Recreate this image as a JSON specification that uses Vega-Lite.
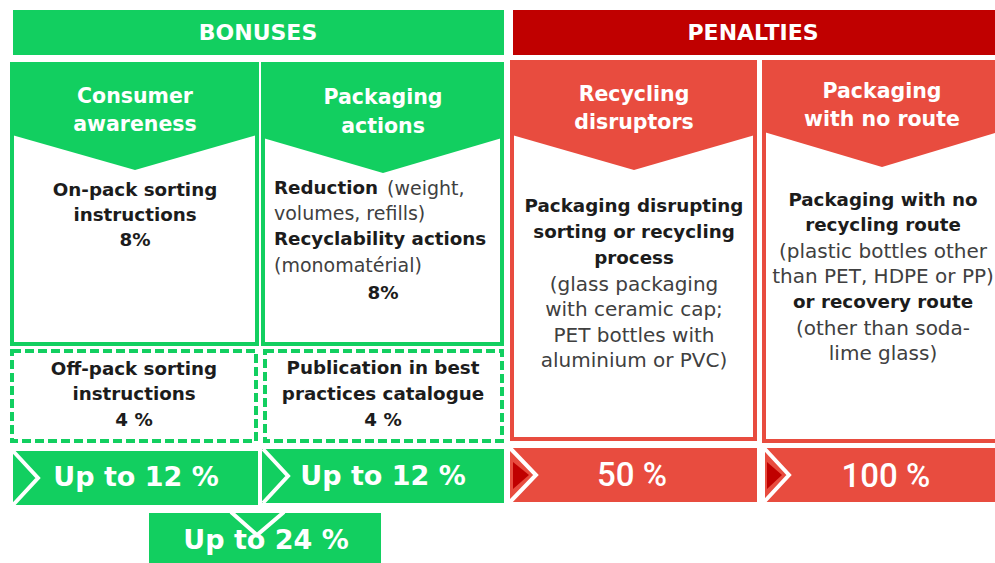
{
  "$schema": "https://vega.github.io/schema/vega-lite/v6.json",
  "width": 995,
  "height": 563,
  "padding": 0,
  "autosize": {"type": "none"},
  "background": "white",
  "config": {"view": {"stroke": null}},
  "datasets": {
    "fills": [
      {"id": "bonus-head", "group": "bonus", "x": 13, "x2": 504, "y": 10, "y2": 55},
      {"id": "penalty-head", "group": "penaltyDark", "x": 513, "x2": 995, "y": 10, "y2": 55},
      {"id": "b1", "group": "bonus", "x": 13, "x2": 258, "y": 451, "y2": 505},
      {"id": "b2", "group": "bonus", "x": 262, "x2": 504, "y": 449, "y2": 503},
      {"id": "b3", "group": "bonus", "x": 149, "x2": 381, "y": 513, "y2": 563},
      {"id": "p1", "group": "penalty", "x": 510, "x2": 757, "y": 448, "y2": 502},
      {"id": "p2", "group": "penalty", "x": 765, "x2": 995, "y": 448, "y2": 502}
    ],
    "boxes": [
      {"id": "consumer", "group": "bonus", "x": 12, "x2": 257, "y": 64, "y2": 344},
      {"id": "packaging", "group": "bonus", "x": 263, "x2": 502, "y": 64, "y2": 344},
      {"id": "disruptors", "group": "penalty", "x": 512, "x2": 755, "y": 62, "y2": 439},
      {"id": "noroute", "group": "penalty", "x": 764, "x2": 998, "y": 62, "y2": 441}
    ],
    "dashed": [
      {"id": "offpack", "group": "bonus", "x": 12, "x2": 256, "y": 351, "y2": 441},
      {"id": "catalogue", "group": "bonus", "x": 265, "x2": 502, "y": 351, "y2": 441}
    ],
    "heads": [
      {"id": "h1", "group": "bonus", "x": 12, "y": 64, "y2": 135},
      {"id": "h1", "group": "bonus", "x": 135, "y": 64, "y2": 170},
      {"id": "h1", "group": "bonus", "x": 257, "y": 64, "y2": 135},
      {"id": "h2", "group": "bonus", "x": 263, "y": 64, "y2": 138},
      {"id": "h2", "group": "bonus", "x": 383, "y": 64, "y2": 173},
      {"id": "h2", "group": "bonus", "x": 502, "y": 64, "y2": 138},
      {"id": "h3", "group": "penalty", "x": 512, "y": 62, "y2": 135},
      {"id": "h3", "group": "penalty", "x": 634, "y": 62, "y2": 170},
      {"id": "h3", "group": "penalty", "x": 755, "y": 62, "y2": 135},
      {"id": "h4", "group": "penalty", "x": 764, "y": 62, "y2": 132},
      {"id": "h4", "group": "penalty", "x": 882, "y": 62, "y2": 167},
      {"id": "h4", "group": "penalty", "x": 998, "y": 62, "y2": 132},
      {"id": "t3", "group": "penaltyDark", "x": 513, "y": 462, "y2": 489},
      {"id": "t3", "group": "penaltyDark", "x": 529, "y": 475, "y2": 475},
      {"id": "t4", "group": "penaltyDark", "x": 767, "y": 462, "y2": 489},
      {"id": "t4", "group": "penaltyDark", "x": 782, "y": 475, "y2": 475}
    ],
    "chevrons": [
      {"id": "c1", "o": 1, "x": 13, "y": 451},
      {"id": "c1", "o": 2, "x": 38, "y": 478},
      {"id": "c1", "o": 3, "x": 13, "y": 505},
      {"id": "c2", "o": 1, "x": 263, "y": 449},
      {"id": "c2", "o": 2, "x": 288, "y": 476},
      {"id": "c2", "o": 3, "x": 263, "y": 503},
      {"id": "c3", "o": 1, "x": 510, "y": 448},
      {"id": "c3", "o": 2, "x": 536, "y": 475},
      {"id": "c3", "o": 3, "x": 510, "y": 502},
      {"id": "c4", "o": 1, "x": 764, "y": 448},
      {"id": "c4", "o": 2, "x": 789, "y": 475},
      {"id": "c4", "o": 3, "x": 764, "y": 502},
      {"id": "v", "o": 1, "x": 231, "y": 512},
      {"id": "v", "o": 2, "x": 257, "y": 535},
      {"id": "v", "o": 3, "x": 284, "y": 512}
    ],
    "texts": [
      {"role": "header", "x": 258, "y": 33, "t": "BONUSES"},
      {"role": "header", "x": 753, "y": 33, "t": "PENALTIES"},
      {"role": "title", "x": 135, "y": 97, "t": "Consumer"},
      {"role": "title", "x": 135, "y": 125, "t": "awareness"},
      {"role": "title", "x": 383, "y": 98, "t": "Packaging"},
      {"role": "title", "x": 383, "y": 127, "t": "actions"},
      {"role": "title", "x": 634, "y": 95, "t": "Recycling"},
      {"role": "title", "x": 634, "y": 123, "t": "disruptors"},
      {"role": "title", "x": 882, "y": 92, "t": "Packaging"},
      {"role": "title", "x": 882, "y": 120, "t": "with no route"},
      {"role": "bold", "x": 135, "y": 191, "t": "On-pack sorting"},
      {"role": "bold", "x": 135, "y": 216, "t": "instructions"},
      {"role": "bold", "x": 135, "y": 241, "t": "8%"},
      {"role": "boldLeft", "x": 274, "y": 189, "t": "Reduction"},
      {"role": "regularLeft", "x": 387, "y": 189, "t": "(weight,"},
      {"role": "regularLeft", "x": 274, "y": 214, "t": "volumes, refills)"},
      {"role": "boldLeft", "x": 274, "y": 240, "t": "Recyclability actions"},
      {"role": "regularLeft", "x": 274, "y": 266, "t": "(monomatérial)"},
      {"role": "bold", "x": 383, "y": 294, "t": "8%"},
      {"role": "bold", "x": 634, "y": 207, "t": "Packaging disrupting"},
      {"role": "bold", "x": 634, "y": 233, "t": "sorting or recycling"},
      {"role": "bold", "x": 634, "y": 259, "t": "process"},
      {"role": "regular", "x": 634, "y": 285, "t": "(glass packaging"},
      {"role": "regular", "x": 634, "y": 310, "t": "with ceramic cap;"},
      {"role": "regular", "x": 634, "y": 336, "t": "PET bottles with"},
      {"role": "regular", "x": 634, "y": 361, "t": "aluminium or PVC)"},
      {"role": "bold", "x": 883, "y": 201, "t": "Packaging with no"},
      {"role": "bold", "x": 883, "y": 226, "t": "recycling  route"},
      {"role": "regular", "x": 883, "y": 252, "t": "(plastic bottles other"},
      {"role": "regular", "x": 883, "y": 277, "t": "than PET, HDPE or PP)"},
      {"role": "bold", "x": 883, "y": 303, "t": "or recovery route"},
      {"role": "regular", "x": 883, "y": 329, "t": "(other than soda-"},
      {"role": "regular", "x": 883, "y": 354, "t": "lime glass)"},
      {"role": "bold", "x": 134, "y": 370, "t": "Off-pack sorting"},
      {"role": "bold", "x": 134, "y": 395, "t": "instructions"},
      {"role": "bold", "x": 134, "y": 421, "t": "4 %"},
      {"role": "bold", "x": 383, "y": 369, "t": "Publication in best"},
      {"role": "bold", "x": 383, "y": 395, "t": "practices catalogue"},
      {"role": "bold", "x": 383, "y": 421, "t": "4 %"},
      {"role": "banner", "x": 136, "y": 478, "t": "Up to 12 %"},
      {"role": "banner", "x": 383, "y": 477, "t": "Up to 12 %"},
      {"role": "banner", "x": 266, "y": 541, "t": "Up to 24 %"},
      {"role": "pct", "x": 632, "y": 476, "t": "50 %"},
      {"role": "pct", "x": 886, "y": 477, "t": "100 %"}
    ]
  },
  "layer": [
    {
      "data": {"name": "fills"},
      "mark": {"type": "rect"},
      "encoding": {
        "x": {"field": "x", "type": "quantitative", "scale": {"domain": [0, 995], "nice": false, "zero": false}, "axis": null},
        "x2": {"field": "x2"},
        "y": {"field": "y", "type": "quantitative", "scale": {"domain": [0, 563], "reverse": true, "nice": false, "zero": false}, "axis": null},
        "y2": {"field": "y2"},
        "color": {"field": "group", "type": "nominal", "scale": {"domain": ["bonus", "penalty", "penaltyDark"], "range": ["#12CF60", "#E84C3F", "#C00000"]}, "legend": null}
      }
    },
    {
      "data": {"name": "boxes"},
      "mark": {"type": "rect", "fill": "white", "strokeWidth": 4},
      "encoding": {
        "x": {"field": "x", "type": "quantitative"},
        "x2": {"field": "x2"},
        "y": {"field": "y", "type": "quantitative"},
        "y2": {"field": "y2"},
        "stroke": {"field": "group", "type": "nominal", "scale": {"domain": ["bonus", "penalty", "penaltyDark"], "range": ["#12CF60", "#E84C3F", "#C00000"]}, "legend": null}
      }
    },
    {
      "data": {"name": "dashed"},
      "mark": {"type": "rect", "fill": "white", "strokeWidth": 4, "strokeDash": [9, 4]},
      "encoding": {
        "x": {"field": "x", "type": "quantitative"},
        "x2": {"field": "x2"},
        "y": {"field": "y", "type": "quantitative"},
        "y2": {"field": "y2"},
        "stroke": {"field": "group", "type": "nominal", "scale": {"domain": ["bonus", "penalty", "penaltyDark"], "range": ["#12CF60", "#E84C3F", "#C00000"]}, "legend": null}
      }
    },
    {
      "data": {"name": "heads"},
      "mark": {"type": "area", "opacity": 1},
      "encoding": {
        "x": {"field": "x", "type": "quantitative"},
        "y": {"field": "y", "type": "quantitative"},
        "y2": {"field": "y2"},
        "detail": {"field": "id", "type": "nominal"},
        "color": {"field": "group", "type": "nominal", "scale": {"domain": ["bonus", "penalty", "penaltyDark"], "range": ["#12CF60", "#E84C3F", "#C00000"]}, "legend": null}
      }
    },
    {
      "data": {"name": "chevrons"},
      "mark": {"type": "line", "color": "white", "strokeWidth": 4, "strokeJoin": "miter"},
      "encoding": {
        "x": {"field": "x", "type": "quantitative"},
        "y": {"field": "y", "type": "quantitative"},
        "detail": {"field": "id", "type": "nominal"},
        "order": {"field": "o", "type": "quantitative"}
      }
    },
    {
      "data": {"name": "texts"},
      "transform": [{"filter": "datum.role === 'header'"}],
      "mark": {"type": "text", "font": "DejaVu Sans", "fontWeight": "bold", "fontSize": 22, "color": "white", "baseline": "middle", "align": "center"},
      "encoding": {"x": {"field": "x", "type": "quantitative"}, "y": {"field": "y", "type": "quantitative"}, "text": {"field": "t"}}
    },
    {
      "data": {"name": "texts"},
      "transform": [{"filter": "datum.role === 'title'"}],
      "mark": {"type": "text", "font": "DejaVu Sans", "fontWeight": "bold", "fontSize": 20.5, "color": "white", "baseline": "middle", "align": "center"},
      "encoding": {"x": {"field": "x", "type": "quantitative"}, "y": {"field": "y", "type": "quantitative"}, "text": {"field": "t"}}
    },
    {
      "data": {"name": "texts"},
      "transform": [{"filter": "datum.role === 'bold'"}],
      "mark": {"type": "text", "font": "DejaVu Sans", "fontWeight": "bold", "fontSize": 18.3, "color": "#1c1c1c", "baseline": "middle", "align": "center"},
      "encoding": {"x": {"field": "x", "type": "quantitative"}, "y": {"field": "y", "type": "quantitative"}, "text": {"field": "t"}}
    },
    {
      "data": {"name": "texts"},
      "transform": [{"filter": "datum.role === 'boldLeft'"}],
      "mark": {"type": "text", "font": "DejaVu Sans", "fontWeight": "bold", "fontSize": 18.3, "color": "#1c1c1c", "baseline": "middle", "align": "left"},
      "encoding": {"x": {"field": "x", "type": "quantitative"}, "y": {"field": "y", "type": "quantitative"}, "text": {"field": "t"}}
    },
    {
      "data": {"name": "texts"},
      "transform": [{"filter": "datum.role === 'regular'"}],
      "mark": {"type": "text", "font": "DejaVu Sans", "fontWeight": "normal", "fontSize": 20, "color": "#404040", "baseline": "middle", "align": "center"},
      "encoding": {"x": {"field": "x", "type": "quantitative"}, "y": {"field": "y", "type": "quantitative"}, "text": {"field": "t"}}
    },
    {
      "data": {"name": "texts"},
      "transform": [{"filter": "datum.role === 'regularLeft'"}],
      "mark": {"type": "text", "font": "DejaVu Sans", "fontWeight": "normal", "fontSize": 19, "color": "#404040", "baseline": "middle", "align": "left"},
      "encoding": {"x": {"field": "x", "type": "quantitative"}, "y": {"field": "y", "type": "quantitative"}, "text": {"field": "t"}}
    },
    {
      "data": {"name": "texts"},
      "transform": [{"filter": "datum.role === 'banner'"}],
      "mark": {"type": "text", "font": "DejaVu Sans", "fontWeight": "bold", "fontSize": 27, "color": "white", "baseline": "middle", "align": "center"},
      "encoding": {"x": {"field": "x", "type": "quantitative"}, "y": {"field": "y", "type": "quantitative"}, "text": {"field": "t"}}
    },
    {
      "data": {"name": "texts"},
      "transform": [{"filter": "datum.role === 'pct'"}],
      "mark": {"type": "text", "font": "Roboto", "fontWeight": 500, "fontSize": 33, "color": "white", "baseline": "middle", "align": "center"},
      "encoding": {"x": {"field": "x", "type": "quantitative"}, "y": {"field": "y", "type": "quantitative"}, "text": {"field": "t"}}
    }
  ]
}
